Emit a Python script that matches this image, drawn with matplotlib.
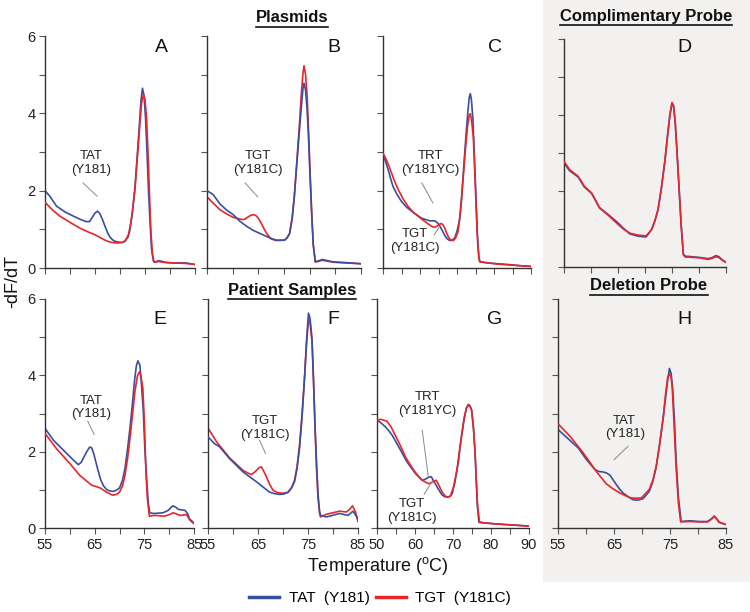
import matplotlib
matplotlib.use("Agg")
import matplotlib.pyplot as plt
from matplotlib.lines import Line2D

plt.rcParams['font.family'] = ['Liberation Sans', 'DejaVu Sans']

BLUE = '#3a4ea0'
RED = '#e8252b'

# ---------------- data (temperature, -dF/dT) ----------------
# Panel A
a_tat_t = [55, 56, 57.3, 59, 60.7, 62.2, 63.2, 63.9, 64.4, 65, 65.5, 66, 66.5, 67, 67.5, 68, 68.5, 69, 69.7, 70.4, 71, 71.6,
           72, 72.5, 73, 73.5, 73.9, 74.2, 74.5, 74.8, 75.1, 75.4, 75.7, 76, 76.3, 76.7, 77.2, 77.7, 78.5, 79.3, 81, 83.3, 85]
a_tat_v = [2.0, 1.85, 1.6, 1.45, 1.34, 1.25, 1.2, 1.2, 1.3, 1.42, 1.47, 1.4, 1.25, 1.08, 0.92, 0.8, 0.73, 0.69, 0.67, 0.66, 0.69, 0.8,
           0.99, 1.45, 2.1, 3.0, 3.75, 4.35, 4.65, 4.45, 3.9, 3.0, 2.0, 1.2, 0.5, 0.17, 0.16, 0.19, 0.17, 0.14, 0.13, 0.13, 0.09]
a_tgt_t = [55, 56.5, 58, 60, 62, 63.5, 65, 66, 67, 68, 69, 70, 70.7, 71.2, 71.7, 72.2, 72.6, 73, 73.5, 73.9, 74.3, 74.7, 75,
           75.3, 75.6, 75.9, 76.2, 76.5, 76.8, 77.2, 77.7, 78.5, 80.7, 83, 85]
a_tgt_v = [1.7, 1.5, 1.34, 1.18, 1.03, 0.94, 0.86, 0.79, 0.72, 0.67, 0.65, 0.65, 0.67, 0.74, 0.86, 1.2, 1.6, 2.05, 2.9, 3.6, 4.25, 4.5, 4.35,
           3.9, 3.0, 1.9, 0.9, 0.35, 0.15, 0.15, 0.17, 0.15, 0.13, 0.12, 0.09]
# Panel B
b_tat_t = [55, 56.2, 57.5, 58.8, 60.1, 61.3, 62.6, 63.9, 65.2, 66.2, 67.2, 68.5, 70.1, 70.6, 71.1, 71.6, 72, 72.5, 73, 73.4, 73.7,
           73.9, 74.2, 74.5, 74.8, 75.1, 75.4, 75.7, 76.1, 76.6, 77.5, 79.5, 82, 85]
b_tat_v = [2.0, 1.9, 1.66, 1.5, 1.38, 1.22, 1.09, 0.98, 0.9, 0.84, 0.78, 0.72, 0.72, 0.78, 0.9, 1.3, 1.85, 2.7, 3.55, 4.2, 4.65,
           4.78, 4.6, 4.1, 3.3, 2.3, 1.4, 0.6, 0.17, 0.18, 0.22, 0.16, 0.14, 0.11]
b_tgt_t = [55, 56.2, 57.5, 58.8, 60.1, 61, 62, 62.5, 63, 63.5, 64, 64.5, 65, 65.6, 66.2, 66.8, 67.5, 68.5, 70.1, 70.6, 71.1, 71.6,
           72, 72.5, 73, 73.4, 73.7, 73.9, 74.2, 74.5, 74.8, 75.1, 75.4, 75.7, 76.1, 76.6, 77.5, 79.5, 82, 85]
b_tgt_v = [1.84, 1.68, 1.51, 1.4, 1.31, 1.28, 1.25, 1.27, 1.32, 1.36, 1.38, 1.36, 1.29, 1.15, 0.99, 0.86, 0.75, 0.71, 0.72, 0.78, 0.89, 1.3,
           1.81, 2.75, 3.7, 4.55, 5.05, 5.23, 5.0, 4.45, 3.5, 2.4, 1.4, 0.6, 0.15, 0.17, 0.2, 0.15, 0.13, 0.11]
# Panel C
c_tat_t = [50, 50.7, 51.4, 52.1, 52.7, 53.8, 55, 56.3, 57.7, 59, 60.4, 61.6, 62.7, 63.4, 64, 64.7, 65.4, 66, 66.7, 67.3, 68, 68.7,
           69.4, 70, 70.7, 71.3, 71.9, 72.4, 72.9, 73.3, 73.6, 73.9, 74.3, 74.7, 75.1, 75.5, 75.9, 76.2, 77, 78.5, 81, 83.9, 87, 90]
c_tat_v = [2.93, 2.75, 2.54, 2.3, 2.11, 1.9, 1.72, 1.58, 1.47, 1.38, 1.29, 1.25, 1.22, 1.22, 1.22, 1.17, 1.08, 0.97, 0.84, 0.76, 0.71, 0.72,
           0.78, 0.95, 1.25, 1.9, 2.72, 3.4, 4.0, 4.4, 4.51, 4.35, 3.85, 2.9, 1.9, 0.9, 0.3, 0.16, 0.15, 0.13, 0.11, 0.09, 0.06, 0.04]
c_tgt_t = [50, 50.9, 51.8, 52.9, 54.1, 55.4, 56.8, 58.1, 59.5, 60.8, 62.2, 63, 63.5, 64.1, 64.7, 65.3, 65.8, 66.2, 66.7, 67.2, 67.8,
           68.4, 69, 69.6, 70.3, 71, 71.7, 72.3, 72.9, 73.3, 73.6, 73.9, 74.4, 74.8, 75.2, 75.6, 76, 76.2, 77, 78.5, 81, 83.9, 87, 90]
c_tgt_v = [2.97, 2.8, 2.59, 2.3, 2.03, 1.79, 1.59, 1.45, 1.34, 1.24, 1.14, 1.09, 1.06, 1.06, 1.09, 1.13, 1.15, 1.12, 1.03, 0.9, 0.78,
           0.72, 0.71, 0.77, 0.95, 1.5, 2.37, 3.1, 3.7, 3.95, 3.99, 3.85, 3.4, 2.5, 1.5, 0.6, 0.2, 0.16, 0.15, 0.13, 0.1, 0.08, 0.06, 0.04]
# Panel D
d_tat_t = [55, 56.05, 57.6, 58.8, 60.1, 61.6, 63.2, 65, 66, 67.2, 68.7, 70.2, 71.2, 71.8, 72.4, 73, 73.7, 74.2, 74.6, 75, 75.3,
           75.6, 75.9, 76.3, 76.7, 77.1, 77.5, 78, 80.2, 81.7, 82.5, 83.1, 83.7, 84.2, 85]
d_tat_v = [2.74, 2.53, 2.37, 2.1, 1.94, 1.56, 1.38, 1.16, 1.02, 0.87, 0.81, 0.79, 0.98, 1.2, 1.5, 2.03, 2.8, 3.48, 3.98, 4.3, 4.22,
           3.78, 3.1, 2.1, 1.1, 0.34, 0.28, 0.28, 0.25, 0.22, 0.25, 0.3, 0.27, 0.2, 0.12]
d_tgt_t = [55, 56.05, 57.6, 58.8, 60.1, 61.6, 63.2, 65, 66, 67.2, 68.7, 70.2, 71.2, 71.8, 72.4, 73, 73.7, 74.2, 74.6, 75, 75.3,
           75.6, 75.9, 76.3, 76.7, 77.1, 77.5, 78, 80.2, 81.7, 82.5, 83.1, 83.7, 84.2, 85]
d_tgt_v = [2.78, 2.56, 2.39, 2.12, 1.95, 1.55, 1.36, 1.12, 1.0, 0.89, 0.84, 0.82, 0.98, 1.2, 1.51, 2.05, 2.82, 3.5, 4.0, 4.33, 4.25,
           3.8, 3.1, 2.1, 1.1, 0.32, 0.26, 0.26, 0.24, 0.2, 0.23, 0.27, 0.25, 0.19, 0.12]
# Panel E
e_tat_t = [55, 56.7, 58.7, 60.4, 61.7, 62.3, 62.8, 63.4, 64, 64.4, 64.8, 65.2, 65.7, 66.2, 66.8, 67.4, 68, 68.8, 69.5, 70, 70.6,
           71.1, 71.6, 72.1, 72.6, 73, 73.4, 73.7, 74.1, 74.4, 74.8, 75.1, 75.5, 75.8, 76.1, 76.8, 78, 78.8, 79.8, 80.7, 81.3,
           81.8, 83.2, 83.7, 84.1, 85]
e_tat_v = [2.61, 2.3, 2.04, 1.82, 1.66, 1.72, 1.85, 2.0, 2.12, 2.1, 1.95, 1.75, 1.5, 1.27, 1.1, 1.01, 0.97, 0.96, 1.0, 1.05, 1.25,
           1.56, 2.05, 2.61, 3.25, 3.83, 4.25, 4.38, 4.27, 3.8, 3.04, 2.1, 1.21, 0.65, 0.4, 0.38, 0.39, 0.4, 0.46, 0.58, 0.55,
           0.49, 0.46, 0.38, 0.24, 0.13]
e_tgt_t = [55, 57.3, 60, 62, 63.2, 64.4, 65.2, 66.1, 67.4, 68.6, 69.4, 70, 70.6, 71.1, 71.6, 72.1, 72.6, 73.1, 73.6, 74, 74.3,
           74.7, 75, 75.3, 75.6, 76, 77.1, 79.1, 80.2, 80.8, 82.2, 83.5, 84.2, 85]
e_tgt_v = [2.48, 2.08, 1.69, 1.38, 1.25, 1.12, 1.09, 1.05, 0.94, 0.86, 0.88, 0.94, 1.1, 1.38, 1.8, 2.34, 2.95, 3.57, 3.98, 4.09, 4.0,
           3.66, 2.8, 1.56, 0.8, 0.31, 0.33, 0.31, 0.36, 0.4, 0.33, 0.35, 0.2, 0.11]
# Panel F
f_tat_t = [55, 56.3, 57.3, 59.3, 62, 64.7, 67.3, 68.3, 69.3, 70.2, 71, 71.7, 72.3, 72.8, 73.3, 73.8, 74.3, 74.7, 75.1, 75.4, 75.8,
           76.1, 76.4, 76.7, 77, 77.3, 77.5, 78.7, 81.3, 83, 84, 85]
f_tat_v = [2.39, 2.21, 2.13, 1.82, 1.47, 1.21, 0.94, 0.9, 0.88, 0.89, 0.94, 1.05, 1.21, 1.55, 2.08, 2.9, 3.92, 4.9, 5.63, 5.5, 4.97,
           3.9, 2.7, 1.73, 0.9, 0.45, 0.33, 0.29, 0.38, 0.33, 0.44, 0.24]
f_tgt_t = [55, 56.7, 59.3, 62, 63, 63.7, 64.2, 64.7, 65.2, 65.7, 66.1, 66.7, 67.3, 68, 68.8, 69.7, 71, 71.7, 72.3, 72.8, 73.3,
           73.8, 74.3, 74.7, 75.1, 75.4, 75.8, 76.1, 76.4, 76.7, 77, 77.3, 77.5, 78.7, 81.3, 82.7, 83.4, 83.9, 84.5, 85]
f_tgt_v = [2.62, 2.26, 1.84, 1.51, 1.44, 1.4, 1.45, 1.51, 1.58, 1.6, 1.5, 1.34, 1.15, 0.99, 0.93, 0.91, 0.93, 1.05, 1.25, 1.6, 2.17,
           2.95, 3.92, 4.8, 5.48, 5.38, 4.88, 3.85, 2.65, 1.56, 0.8, 0.4, 0.29, 0.36, 0.44, 0.42, 0.5, 0.58, 0.42, 0.16]
# Panel G
g_tat_t = [50, 51.1, 52.2, 53.1, 54, 55.7, 57.9, 60.1, 61.9, 62.6, 63.2, 63.8, 64.3, 65, 65.8, 66.5, 67.1, 67.8, 68.5, 69.2, 69.8,
           70.5, 71.4, 72.1, 72.9, 73.5, 74, 74.5, 74.9, 75.4, 75.8, 76.1, 76.4, 76.8, 78.6, 81, 83.8, 87, 90]
g_tat_v = [2.83, 2.75, 2.65, 2.55, 2.43, 2.13, 1.73, 1.43, 1.25, 1.27, 1.31, 1.34, 1.34, 1.22, 1.08, 0.96, 0.87, 0.82, 0.81, 0.83, 0.9,
           1.2, 1.73, 2.3, 2.83, 3.12, 3.24, 3.2, 3.09, 2.6, 2.0, 1.3, 0.6, 0.16, 0.13, 0.11, 0.09, 0.07, 0.05]
g_tgt_t = [50, 50.9, 52.6, 53.7, 54.8, 56.2, 57.5, 58.6, 59.7, 60.8, 61.9, 62.8, 63.6, 64.2, 64.8, 65.6, 66.1, 66.7, 67.3, 68, 68.7,
           69.3, 70.2, 71.1, 72, 72.9, 73.5, 74, 74.5, 74.9, 75.4, 75.8, 76.1, 76.5, 77, 78.6, 81, 83.8, 87, 90]
g_tgt_v = [2.81, 2.85, 2.8, 2.65, 2.43, 2.15, 1.86, 1.68, 1.51, 1.37, 1.25, 1.2, 1.16, 1.18, 1.22, 1.25, 1.16, 1.03, 0.92, 0.83, 0.81,
           0.83, 1.1, 1.56, 2.25, 2.87, 3.14, 3.22, 3.18, 3.09, 2.6, 2.0, 1.3, 0.55, 0.14, 0.13, 0.11, 0.09, 0.07, 0.05]
# Panel H
h_tat_t = [55, 56.5, 58.6, 60.1, 61.6, 62.3, 63, 63.7, 64.3, 64.8, 65.4, 66, 66.6, 67.5, 68.4, 69.3, 70.2, 71.3, 71.9, 72.5, 73.1,
           73.7, 74.2, 74.6, 74.9, 75.2, 75.5, 75.8, 76.1, 76.5, 77, 78.5, 80.2, 81.7, 82.4, 82.9, 83.3, 83.8, 85]
h_tat_v = [2.58, 2.38, 2.1, 1.79, 1.53, 1.48, 1.47, 1.44, 1.38, 1.27, 1.14, 1.02, 0.92, 0.82, 0.74, 0.73, 0.77, 0.96, 1.2, 1.57, 2.15,
           2.8, 3.4, 3.89, 4.18, 4.05, 3.6, 2.8, 1.75, 0.8, 0.17, 0.19, 0.17, 0.17, 0.24, 0.31, 0.25, 0.15, 0.09]
h_tgt_t = [55, 57.1, 59.5, 61.8, 63.6, 64.8, 66, 67, 68, 69, 69.9, 71.3, 72, 72.6, 73.2, 73.8, 74.2, 74.6, 74.9, 75.2, 75.4,
           75.7, 76.1, 76.5, 76.9, 78.5, 80.2, 81.7, 82.4, 82.9, 83.3, 83.8, 85]
h_tgt_v = [2.73, 2.41, 1.97, 1.49, 1.16, 1.03, 0.92, 0.85, 0.79, 0.78, 0.79, 1.01, 1.28, 1.66, 2.25, 2.89, 3.5, 3.95, 4.04, 3.95, 3.67,
           2.8, 1.57, 0.65, 0.16, 0.17, 0.16, 0.16, 0.23, 0.31, 0.24, 0.15, 0.09]

panel_letters = ['A', 'B', 'C', 'D', 'E', 'F', 'G', 'H']
legend_labels = ['TAT  (Y181)', 'TGT  (Y181C)']

# ---------------- layout ----------------
W, H = 750, 612
fig = plt.figure(figsize=(7.5, 6.12), dpi=100)
fig.patch.set_facecolor('white')

# gray background for probe panels
bg = plt.Rectangle((543 / W, 1 - 582 / H), (750 - 543) / W, 582 / H,
                   transform=fig.transFigure, facecolor='#f2f1f0', edgecolor='none', zorder=-10)
fig.add_artist(bg)

def px_axes(x0, x1, ytop, ybot):
    ax = fig.add_axes([x0 / W, 1 - ybot / H, (x1 - x0) / W, (ybot - ytop) / H])
    ax.patch.set_alpha(0)
    return ax

boxes = {
    'A': (45, 195, 36, 268), 'B': (207, 361, 36, 268), 'C': (383, 531, 36, 268), 'D': (564, 726, 39, 267),
    'E': (45, 194, 299, 528), 'F': (208, 358, 299, 528), 'G': (377, 529, 299, 528), 'H': (558, 726, 299, 528),
}
series = {
    'A': (a_tat_t, a_tat_v, a_tgt_t, a_tgt_v), 'B': (b_tat_t, b_tat_v, b_tgt_t, b_tgt_v),
    'C': (c_tat_t, c_tat_v, c_tgt_t, c_tgt_v), 'D': (d_tat_t, d_tat_v, d_tgt_t, d_tgt_v),
    'E': (e_tat_t, e_tat_v, e_tgt_t, e_tgt_v), 'F': (f_tat_t, f_tat_v, f_tgt_t, f_tgt_v),
    'G': (g_tat_t, g_tat_v, g_tgt_t, g_tgt_v), 'H': (h_tat_t, h_tat_v, h_tgt_t, h_tgt_v),
}
xr = {'A': (55, 85), 'B': (55, 85), 'C': (50, 90), 'D': (55, 85),
      'E': (55, 85), 'F': (55, 85), 'G': (50, 90), 'H': (55, 85)}

axes = {}
for p in panel_letters:
    ax = px_axes(*boxes[p])
    axes[p] = ax
    bt, bv, rt, rv = series[p]
    kw = dict(lw=1.2, solid_joinstyle='round', solid_capstyle='round')
    if p in ('D',):
        ax.plot(rt, rv, color=RED, zorder=3, **kw)
        ax.plot(bt, bv, color=BLUE, zorder=2, **kw)
    elif p in ('B', 'F'):
        ax.plot(rt, rv, color=RED, zorder=2, **kw)
        ax.plot(bt, bv, color=BLUE, zorder=3, **kw)
    else:
        ax.plot(bt, bv, color=BLUE, zorder=2, **kw)
        ax.plot(rt, rv, color=RED, zorder=3, **kw)
    lo, hi = xr[p]
    ax.set_xlim(lo, hi)
    ax.set_ylim(0, 6)
    for s in ('top', 'right'):
        ax.spines[s].set_visible(False)
    for s in ('left', 'bottom'):
        ax.spines[s].set_color('#333333')
        ax.spines[s].set_linewidth(1.0)
    ax.set_xticks(list(range(lo, hi + 1, 5)))
    ax.set_yticks(range(0, 7))
    ax.tick_params(direction='out', length=4, width=0.8, color='#555555',
                   labelsize=10.5, pad=3, labelcolor='#222222')
    if p in ('A', 'E'):
        ax.set_yticklabels(['0', '', '2', '', '4', '', '6'])
    else:
        ax.set_yticklabels([])
    if p in ('E', 'F', 'H'):
        ax.set_xticklabels([str(v) if (v - lo) % 10 == 0 else '' for v in range(lo, hi + 1, 5)])
    elif p == 'G':
        ax.set_xticklabels([str(v) if v % 10 == 0 else '' for v in range(lo, hi + 1, 5)])
    else:
        ax.set_xticklabels([])

# panel letters
letter_pos = {'A': (161, 48), 'B': (334, 48), 'C': (495, 48), 'D': (684, 48),
              'E': (160, 320), 'F': (333, 320), 'G': (495, 319), 'H': (684, 319)}
for p, (x, y) in letter_pos.items():
    fig.text(x / W, 1 - y / H, p, ha='center', va='center', fontsize=14, color='#111111')

# annotations: (panel, text, text_xy, line_start, line_end)
notes = [
    ('A', 'TAT\n(Y181)', (64.2, 2.72), (62.6, 2.2), (65.4, 1.86)),
    ('B', 'TGT\n(Y181C)', (64.9, 2.72), (62.4, 2.2), (64.9, 1.84)),
    ('C', 'TRT\n(Y181YC)', (62.7, 2.72), (60.5, 2.2), (63.5, 1.68)),
    ('C', 'TGT\n(Y181C)', (58.6, 0.70), (63.8, 0.85), (65.2, 1.06)),
    ('E', 'TAT\n(Y181)', (64.2, 3.15), (63.6, 2.8), (64.9, 2.45)),
    ('F', 'TGT\n(Y181C)', (66.3, 2.62), (65.3, 2.3), (66.5, 1.95)),
    ('G', 'TRT\n(Y181YC)', (63.2, 3.25), (61.9, 2.56), (63.5, 1.34)),
    ('G', 'TGT\n(Y181C)', (59.2, 0.45), (62.4, 0.88), (64.5, 1.22)),
    ('H', 'TAT\n(Y181)', (66.9, 2.64), (65.0, 1.79), (67.5, 2.14)),
]
for p, txt, (tx, ty), (x1, y1), (x2, y2) in notes:
    ax = axes[p]
    ax.text(tx, ty, txt, ha='center', va='center', fontsize=9.5, color='#222222',
            linespacing=1.15, zorder=5)
    ax.plot([x1, x2], [y1, y2], color='#888888', lw=0.7, zorder=4)

# section titles with underline
titles = [('Plasmids', 292, 18), ('Patient Samples', 292, 290),
          ('Complimentary Probe', 646, 16), ('Deletion Probe', 649, 286)]
fig.canvas.draw()
renderer = fig.canvas.get_renderer()
for txt, x, y in titles:
    t = fig.text(x / W, 1 - y / H, txt, ha='center', va='center', fontsize=12,
                 fontweight='bold', color='#111111')
    bb = t.get_window_extent(renderer=renderer)
    fx0, fx1 = bb.x0 / W, bb.x1 / W
    fy = (bb.y0 - 1) / H
    fig.add_artist(Line2D([fx0, fx1], [fy, fy], transform=fig.transFigure,
                          color='#111111', lw=1.2))

# axis labels
fig.text(13 / W, 1 - 282 / H, '-dF/dT', rotation=90, ha='center', va='center',
         fontsize=13, color='#111111')
fig.text(378 / W, 1 - 566 / H, r'Temperature ($^{\mathregular{o}}$C)', ha='center',
         va='center', fontsize=13, color='#111111')

# legend
handles = [Line2D([], [], color=BLUE, lw=2.5), Line2D([], [], color=RED, lw=2.5)]
fig.legend(handles, legend_labels, loc='center', bbox_to_anchor=(380 / W, 1 - 598 / H),
           ncol=2, frameon=False, fontsize=11, handlelength=2.0, handletextpad=0.6,
           columnspacing=0.4)

fig.savefig('out.png', dpi=100, facecolor='white')
